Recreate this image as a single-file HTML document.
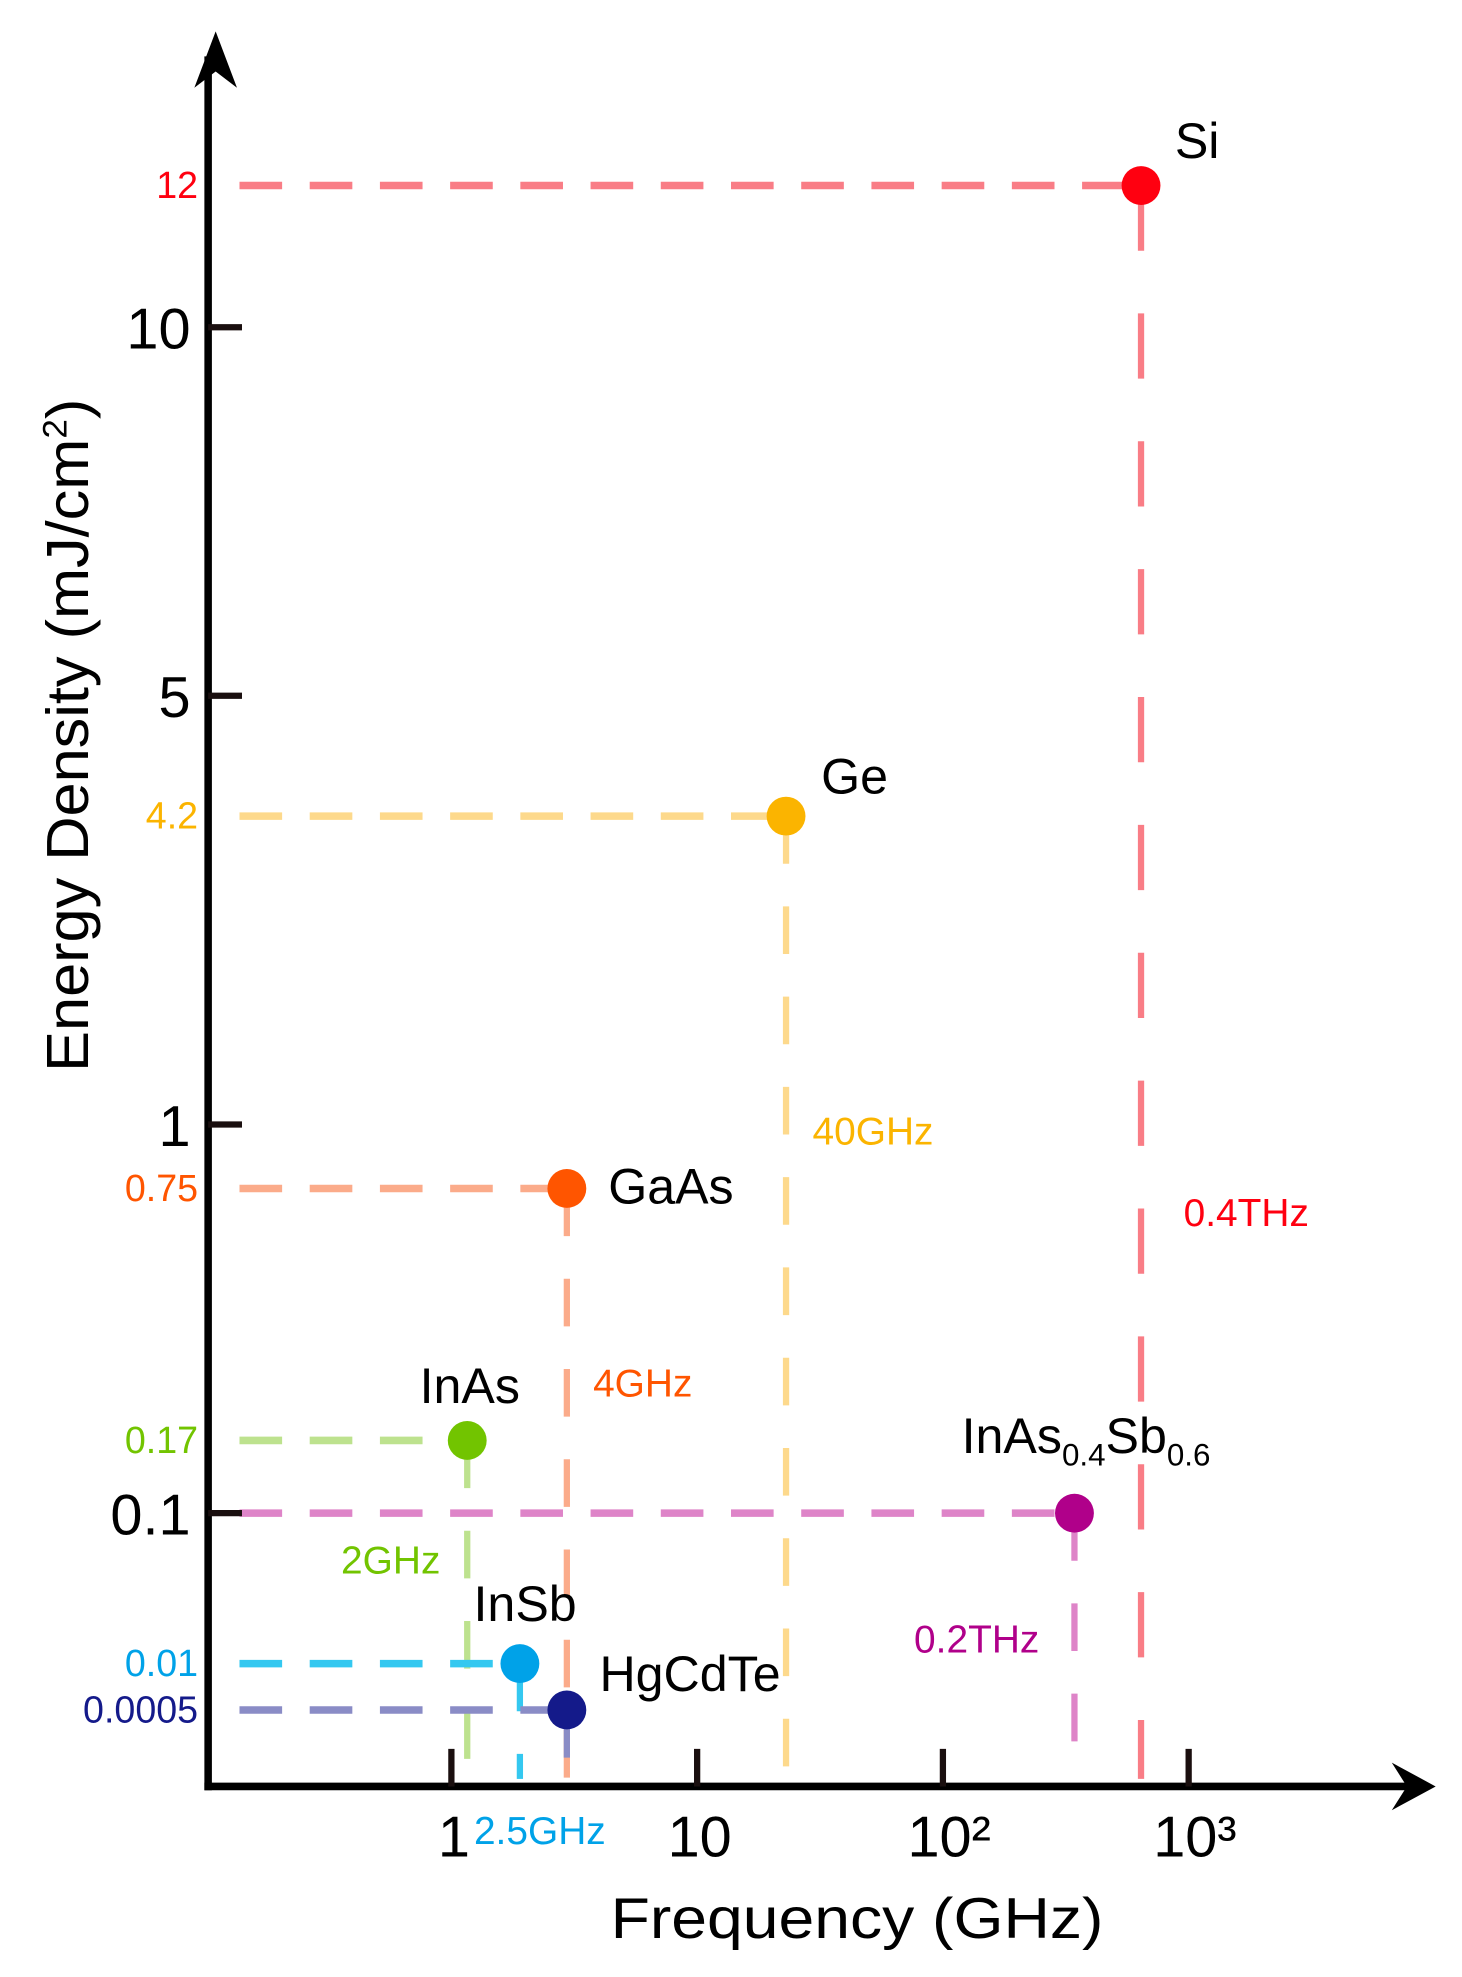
<!DOCTYPE html>
<html><head><meta charset="utf-8"><style>
html,body{margin:0;padding:0;background:#fff;}
svg{display:block;font-family:"Liberation Sans",Arial,sans-serif;}
</style></head><body>
<svg id="chart" width="1462" height="1977" viewBox="0 0 1166 1577" preserveAspectRatio="none" xmlns="http://www.w3.org/2000/svg">
<g id="guides"></g>
<g id="axes">
  <line x1="166" y1="1428" x2="166" y2="45" stroke="#000" stroke-width="6"/>
  <path d="M172,25 L155,70 L172,57 L189,70 Z" fill="#000"/>
  <line x1="163" y1="1425" x2="1125" y2="1425" stroke="#000" stroke-width="6"/>
  <path d="M1145,1425 L1110,1406 L1122,1425 L1110,1444 Z" fill="#000"/>
</g>
<g id="ticks"></g>
<g id="points"></g>
<g id="labels"></g>
<text x="487" y="1546" font-size="46" textLength="393" lengthAdjust="spacingAndGlyphs">Frequency (GHz)</text>
<text transform="translate(70,855) rotate(-90)" font-size="47" textLength="537" lengthAdjust="spacingAndGlyphs">Energy Density (mJ/cm<tspan font-size="27" dy="-17">2</tspan><tspan dy="17">)</tspan></text>
</svg>
<script>
// ---- data ----
const materials = ["Si","Ge","GaAs","InAs","InAsSb","InSb","HgCdTe"];
const energy = [12, 4.2, 0.75, 0.17, 0.1, 0.01, 0.0005];          // mJ/cm^2
const freqPlot = [640, 23, 2.95, 1.16, 343, 1.9, 2.95];            // GHz (plotted position)
const energyLabels = ["12","4.2","0.75","0.17","","0.01","0.0005"];
const freqLabels = ["0.4THz","40GHz","4GHz","2GHz","0.2THz","2.5GHz",""];
const yTickValues = [10, 5, 1, 0.1];
const yTickLabels = ["10","5","1","0.1"];
const xTickValues = [1, 10, 100, 1000];
const xTickLabels = ["1","10","10²","10³"];
const dotColors = ["#ff0010","#fbb400","#ff5500","#72c400","#b0008a","#00a2e8","#141a8a"];
const lineColors = ["#f97d86","#fdd98c","#fbab8a","#bde28e","#de84c8","#34c8f0","#8a8cc6"];

// ---- scales (schematic, piecewise) ----
const X0 = 166, Y0 = 1425;
function xScale(f){ return 360 + 196*Math.log10(f); }
const yDom = [0.0005, 0.01, 0.1, 0.17, 0.75, 1, 4.2, 5, 10, 12];
const yRng = [1364, 1327, 1207, 1149, 948, 897, 651, 555, 261, 148];
function yScale(v){
  for(let i=0;i<yDom.length-1;i++){
    if(v<=yDom[i+1]){ const t=(v-yDom[i])/(yDom[i+1]-yDom[i]); return yRng[i]+t*(yRng[i+1]-yRng[i]); }
  }
  return yRng[yRng.length-1];
}
const NS="http://www.w3.org/2000/svg";
function mk(tag, attrs, parent){ const e=document.createElementNS(NS,tag); for(const k in attrs) e.setAttribute(k,attrs[k]); parent.appendChild(e); return e; }
const gG=document.getElementById('guides'), gT=document.getElementById('ticks'), gP=document.getElementById('points'), gL=document.getElementById('labels');

// ticks
yTickValues.forEach((v,i)=>{
  const y=yScale(v);
  const t=mk('line',{x1:X0,y1:y,x2:193,y2:y,stroke:'#1a0f0f','stroke-width':5},gT);
  
  
  const l=mk('text',{x:152,y:y+17,'font-size':46,'text-anchor':'end'},gT);
  l.textContent=yTickLabels[i];
  
  
});
xTickValues.forEach((v,i)=>{
  const x=xScale(v);
  const t=mk('line',{x1:x,y1:1395,x2:x,y2:Y0,stroke:'#1a0f0f','stroke-width':5},gT);
  
  
  const l=mk('text',{x:x+(i>=2?5:2),y:1481,'font-size':46,'text-anchor':'middle'},gT);
  l.textContent=xTickLabels[i];
  
  
});

// guides + points
const nameOffsets=[[27,-22],[28,-18],[33,12],[-38,-30],[0,0],[-37,-34],[26,-15]];
materials.forEach((m,i)=>{
  const x=xScale(freqPlot[i]), y=yScale(energy[i]);
  const hz=mk('line',{x1:X0+25,y1:y,x2:x,y2:y,stroke:lineColors[i],'stroke-width':6,'stroke-dasharray':'34 22'},gG);
  
  
  const vt=mk('line',{x1:x,y1:y,x2:x,y2:Y0-6,stroke:lineColors[i],'stroke-width':5,'stroke-dasharray': i===0?'52 50':'38 34'},gG);
  
  
  const c=mk('circle',{cx:x,cy:y,r:15.5,fill:dotColors[i]},gP);
  
  
  if(energyLabels[i]){
    const el=mk('text',{x:158,y:y+10,'font-size':30,'text-anchor':'end',fill:dotColors[i]},gL);
    el.textContent=energyLabels[i];
    
    
  }
  let nl;
  if(m==="InAsSb"){
    nl=mk('text',{x:x-90,y:y-48,'font-size':40},gL);
    nl.innerHTML='InAs<tspan font-size="25" dy="10">0.4</tspan><tspan dy="-10">Sb</tspan><tspan font-size="25" dy="10">0.6</tspan>';
  } else {
    nl=mk('text',{x:x+nameOffsets[i][0],y:y+nameOffsets[i][1],'font-size':40},gL);
    nl.textContent=m;
  }
  
  
});
// frequency labels
const flPos=[[944,978],[648,913],[473,1114],[272,1255],[729,1318],[378,1471]];
const flIdx=[0,1,2,3,4,5];
flIdx.forEach((i,k)=>{
  const t=mk('text',{x:flPos[k][0],y:flPos[k][1],'font-size':31,fill:dotColors[i]},gL);
  t.textContent=freqLabels[i];
  
  
});
</script>
</body></html>
